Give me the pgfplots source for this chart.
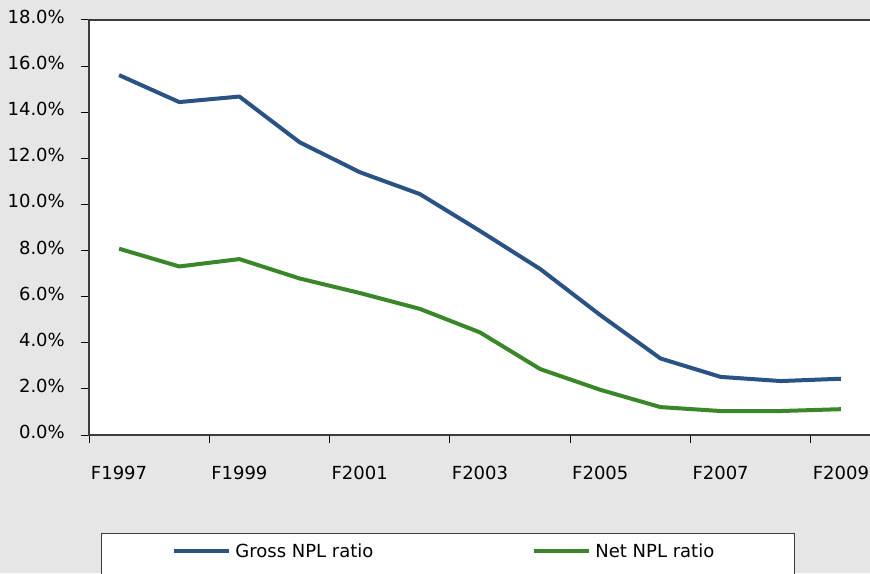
\documentclass[border=0pt]{standalone}
\usepackage{pgfplots}
\pgfplotsset{compat=1.18}
\usepackage{fontspec}
\setmainfont{DejaVu Sans}
\definecolor{bggray}{HTML}{E6E6E6}
\definecolor{grossblue}{RGB}{41,82,133}
\definecolor{netgreen}{RGB}{58,135,42}
\definecolor{frame}{HTML}{3C3C3C}

\pgfplotstableread{
x gross net
0  15.61 8.08
1  14.44 7.31
2  14.68 7.63
3  12.70 6.79
4  11.40 6.16
5  10.45 5.47
6   8.85 4.45
7   7.20 2.86
8   5.20 1.96
9   3.32 1.21
10  2.52 1.04
11  2.34 1.04
12  2.44 1.12
}\npldata

\begin{document}
\begin{tikzpicture}[x=1pt,y=1pt]
\useasboundingbox (0,0) rectangle (870,573);
\clip (0,0) rectangle (870,573);
\fill[bggray] (0,0) rectangle (870,573);
\begin{axis}[
  at={(89pt,138pt)}, anchor=south west,
  scale only axis, width=782pt, height=415pt,
  xmin=-0.5, xmax=12.5, ymin=0, ymax=18,
  axis background/.style={fill=white},
  axis line style={draw=frame, line width=1.3pt},
  font=\fontsize{18}{21}\selectfont,
  tick align=outside,
  xtick pos=bottom, ytick pos=left,
  major tick length=8pt, minor tick length=8pt,
  every tick/.style={draw=black, line width=1pt},
  xtick={0,2,...,12},
  xticklabels={F1997,F1999,F2001,F2003,F2005,F2007,F2009},
  major x tick style={draw=none},
  minor xtick={-0.5,1.5,...,11.5},
  ytick={0,2,...,18},
  yticklabels={0.0\%,2.0\%,4.0\%,6.0\%,8.0\%,10.0\%,12.0\%,14.0\%,16.0\%,18.0\%},
  xticklabel style={anchor=center, inner sep=0pt, yshift=-30pt},
  yticklabel style={anchor=east, inner sep=0pt, xshift=-16pt, yshift=3pt},
  legend columns=2,
  legend style={
    at={(0.01535,-0.2361)}, anchor=north west,
    draw=frame, line width=0.8pt, fill=white,
    inner xsep=0pt, inner ysep=10pt,
    nodes={inner sep=0pt, text depth=0.2em},
    font=\fontsize{18}{21}\selectfont,
  },
  legend image code/.code={
    \path (-71pt,0pt) (59pt,-34pt);
    \draw[#1, line width=4pt] (0pt,0pt) -- (55pt,0pt);
  },
]
\addplot[grossblue, line width=4pt, line join=round] table[x=x, y=gross] {\npldata};
\addlegendentry{\makebox[226pt][l]{Gross NPL ratio}}
\addplot[netgreen, line width=4pt, line join=round] table[x=x, y=net] {\npldata};
\addlegendentry{\makebox[199pt][l]{Net NPL ratio}}
\end{axis}
\end{tikzpicture}
\end{document}
